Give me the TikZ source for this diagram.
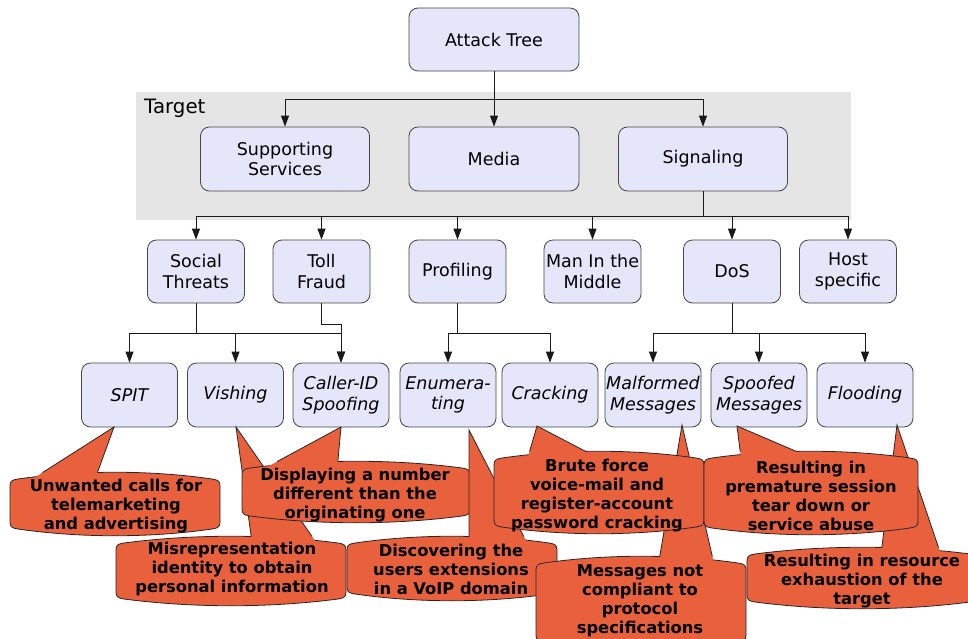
\documentclass[tikz,border=0pt]{standalone}
\usepackage{fontspec}
\setmainfont{DejaVu Sans}
\usetikzlibrary{arrows.meta,calc}
\definecolor{nodefill}{RGB}{230,230,250}
\definecolor{nodeline}{RGB}{70,70,70}
\definecolor{targetgray}{RGB}{229,229,229}
\definecolor{orangefill}{RGB}{232,97,60}
\definecolor{orangeline}{RGB}{45,35,35}
\tikzset{
  box/.style={draw=nodeline, fill=nodefill, rounded corners=9pt, line width=0.8pt,
    align=center, inner sep=0pt, font=\fontsize{17.5}{20.5}\selectfont},
  bigbox/.style={box, minimum width=169pt, minimum height=64pt},
  midbox/.style={box, minimum width=97pt, minimum height=63pt},
  leafbox/.style={box, minimum width=96pt, minimum height=64pt,
    font=\fontsize{17.5}{20.5}\selectfont\itshape},
  conn/.style={draw=black!90, line width=0.9pt, -{Triangle[length=11pt,width=8pt]}},
  cobody/.style={fill=orangefill, draw=orangeline, line width=0.8pt},
  cofill/.style={fill=orangefill},
  coline/.style={draw=orangeline, line width=0.8pt, line join=miter},
  cotext/.style={align=center, inner sep=0pt, text=black,
    font=\fontsize{16.3}{19}\selectfont\bfseries},
  labeltext/.style={inner sep=0pt, font=\fontsize{19.8}{23}\selectfont}
}
% #1 x0, #2 y0 (top), #3 x1, #4 y1 (bottom), #5 tip x, #6 tip y, #7 base left x, #8 base right x
\newcommand{\bubble}[8]{%
  \filldraw[cobody] (#1,#2+15) .. controls (#1,#2+10) and (#1+2,#2+9) .. (#1+8,#2+8)
    .. controls ({#1+(#3-#1)/3},#2-1) and ({#3-(#3-#1)/3},#2-1) .. (#3-8,#2+8)
    .. controls (#3-2,#2+9) and (#3,#2+10) .. (#3,#2+15)
    -- (#3,#4-15) .. controls (#3,#4-10) and (#3-2,#4-9) .. (#3-8,#4-8)
    .. controls ({#3-(#3-#1)/3},#4+1) and ({#1+(#3-#1)/3},#4+1) .. (#1+8,#4-8)
    .. controls (#1+2,#4-9) and (#1,#4-10) .. (#1,#4-15) -- cycle;
  \fill[cofill] (#5,#6) -- ($(#5,#6)!{(#2+12-#6)/(#2-#6)}!(#7,#2)$)
    -- ($(#5,#6)!{(#2+12-#6)/(#2-#6)}!(#8,#2)$) -- cycle;
  \draw[coline] ($(#5,#6)!{(#2+1.5-#6)/(#2-#6)}!(#7,#2)$) -- (#5,#6)
    -- ($(#5,#6)!{(#2+1.5-#6)/(#2-#6)}!(#8,#2)$);
}
\begin{document}
\begin{tikzpicture}[x=1pt,y=-1pt]
\useasboundingbox[fill=white] (0,0) rectangle (968,639);
% target region
\fill[targetgray] (136,92) rectangle (851,220);
\node[labeltext, anchor=west] (target) at (144,108) {Target};

% level 0 and 1
\node[bigbox, minimum width=170pt, minimum height=63pt] (attack) at (494,39.5) {Attack Tree};
\node[bigbox] (supp) at (285,159) {Supporting\\Services};
\node[bigbox, minimum width=170pt] (media) at (494,159) {Media};
\node[bigbox] (sig) at (703,159) {Signaling};

% level 2
\node[midbox] (st) at (196,271.5) {Social\\Threats};
\node[midbox] (tf) at (321.5,271.5) {Toll\\Fraud};
\node[midbox] (prof) at (457.5,271.5) {Profiling};
\node[midbox] (mitm) at (592.5,271.5) {Man In the\\Middle};
\node[midbox] (dos) at (732,271.5) {DoS};
\node[midbox] (host) at (848,271.5) {Host\\specific};

% level 3
\node[leafbox] (spit) at (129.5,395) {SPIT};
\node[leafbox] (vish) at (235.5,395) {Vishing};
\node[leafbox] (cid) at (341,395) {Caller-ID\\Spoofing};
\node[leafbox] (enum) at (448,395) {Enumera-\\ting};
\node[leafbox] (crack) at (550,395) {Cracking};
\node[leafbox] (malf) at (653,395) {Malformed\\Messages};
\node[leafbox] (spoof) at (759,395) {Spoofed\\Messages};
\node[leafbox] (flood) at (865,395) {Flooding};

% connectors
\draw[conn] (attack.south) -- (media.north);
\draw[conn] (attack.south) -- ++(0,28) -| (supp.north);
\draw[conn] (attack.south) -- ++(0,28) -| (sig.north);

\foreach \t in {st,tf,prof,mitm,dos,host}
  \draw[conn] (sig.south) -- ++(0,25) -| (\t.north);

\foreach \t in {spit,vish,cid}
  \draw[conn] (st.south) -- ++(0,30) -| (\t.north);
\draw[conn] (tf.south) -- ++(0,21) -| (cid.north);
\foreach \t in {enum,crack}
  \draw[conn] (prof.south) -- ++(0,30) -| (\t.north);
\foreach \t in {malf,spoof,flood}
  \draw[conn] (dos.south) -- ++(0,30) -| (\t.north);

% callouts
\bubble{10}{471}{220}{537}{114}{427}{45}{98}
\node[cotext] (c1) at (116,506) {Unwanted calls for\\telemarketing\\and advertising};
\bubble{116}{535}{346}{607}{236}{427}{251}{311}
\node[cotext] (c2) at (232,569) {Misrepresentation\\identity to obtain\\personal information};
\bubble{242}{460}{470}{524}{341}{427}{280}{338}
\node[cotext] (c3) at (355,495) {Displaying a number\\different than the\\originating one};
\bubble{347}{535}{557}{602}{469}{430}{469}{523}
\node[cotext] (c4) at (451,569) {Discovering the\\users extensions\\in a VoIP domain};
\bubble{536}{555}{746}{650}{682}{425}{660}{712}
\node[cotext] (c5) at (640,600.5) {Messages not\\compliant to\\protocol\\specifications};
\bubble{747}{546}{978}{610}{897}{425}{882}{938}
\node[cotext] (c6) at (862,581) {Resulting in resource\\exhaustion of the\\target};
\bubble{494}{450}{704}{535}{537}{426}{530}{583}
\node[cotext] (c7) at (597,495.5) {Brute force\\voice-mail and\\register-account\\password cracking};
\bubble{704}{450}{918}{536}{737}{426}{740}{793}
\node[cotext] (c8) at (811,495.5) {Resulting in\\premature session\\tear down or\\service abuse};
\end{tikzpicture}
\end{document}
